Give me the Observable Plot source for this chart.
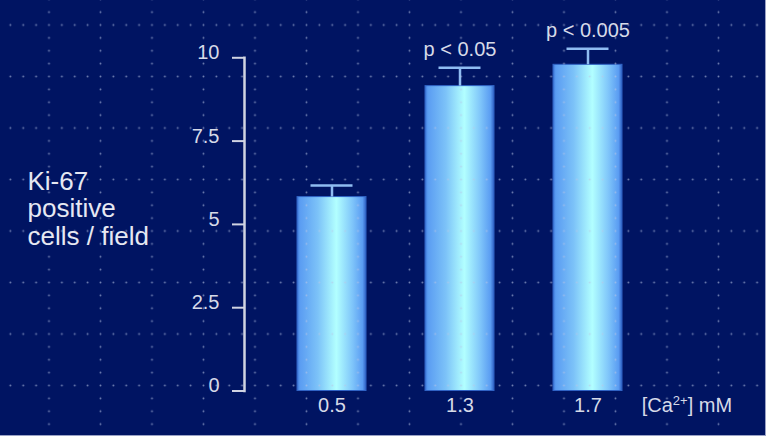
<!DOCTYPE html>
<html>
<head>
<meta charset="utf-8">
<script src="https://cdn.jsdelivr.net/npm/d3@7"></script>
<script src="https://cdn.jsdelivr.net/npm/@observablehq/plot@0.6"></script>
<style>
  html, body { margin: 0; padding: 0; background: #ffffff; }
  #wrap { width: 765px; height: 435px; border-right: 1px solid #9aa2c6; border-bottom: 1px solid #9aa2c6; background: #001462; }
  #wrap svg { display: block; }
</style>
</head>
<body>
<div id="wrap"></div>
<script>
// ---- data ----
const concentrations = ["0.5", "1.3", "1.7"];
const meanKi67 = [5.82, 9.15, 9.79];
const errKi67 = [0.35, 0.55, 0.48];
const pLabels = ["", "p < 0.05", "p < 0.005"];
const yTicks = [0, 2.5, 5, 7.5, 10];
const yLabel = "Ki-67\npositive\ncells / field";
const xLabel = "[Ca2+] mM";

const rows = concentrations.map((c, i) => ({
  conc: c, mean: meanKi67[i], upper: meanKi67[i] + errKi67[i], p: pLabels[i]
}));

const FONT = "'Liberation Sans', Arial, Helvetica, sans-serif";
const TXT = "#d6dae8";
const AXIS = "#d0d4e2";
const ERR = "#8fbcf2";

// gradient + dot-grid definitions (decoration)
const defsMark = () => {
  const g = d3.create("svg:g");
  const defs = g.append("defs");
  const lg = defs.append("linearGradient").attr("id", "barGrad")
    .attr("x1", "0").attr("x2", "1").attr("y1", "0").attr("y2", "0");
  [["0%", "#3a72d4"], ["4%", "#5a9cf2"], ["30%", "#7cc2f8"], ["57%", "#b2ffff"],
   ["80%", "#80c6fa"], ["95%", "#5a9cf2"], ["100%", "#3162c4"]]
    .forEach(([o, c]) => lg.append("stop").attr("offset", o).attr("stop-color", c));
  const pat = defs.append("pattern").attr("id", "dotGrid")
    .attr("patternUnits", "userSpaceOnUse")
    .attr("x", 49 - 6.4375).attr("y", 25 - 6.4375)
    .attr("width", 51.5).attr("height", 51.5);
  for (let i = 0; i < 4; i++) pat.append("circle").attr("cx", 6.4375 + 12.875 * i).attr("cy", 6.4375).attr("r", 0.95).attr("fill", "rgba(185,196,228,0.6)");
  for (let j = 1; j < 4; j++) pat.append("circle").attr("cx", 6.4375).attr("cy", 6.4375 + 12.875 * j).attr("r", 0.95).attr("fill", "rgba(185,196,228,0.6)");
  return g.node();
};

const dotOverlay = (index, scales, values, dims) => {
  const g = d3.create("svg:g");
  g.append("rect").attr("x", 0).attr("y", 0).attr("width", dims.width).attr("height", dims.height)
    .attr("fill", "url(#dotGrid)").attr("pointer-events", "none");
  return g.node();
};

const plot = Plot.plot({
  width: 765,
  height: 435,
  marginTop: 57.3,
  marginBottom: 44.5,
  marginLeft: 244,
  marginRight: 89.8,
  style: { background: "#001462", fontFamily: FONT, color: TXT },
  x: { domain: concentrations, paddingInner: 0.463, paddingOuter: 0.408, label: null },
  y: { domain: [0, 10], label: null },
  marks: [
    defsMark,
    Plot.barY(rows, { x: "conc", y: "mean", fill: "url(#barGrad)", stroke: "#2f62c4", strokeWidth: 1 }),
    Plot.ruleX(rows, { x: "conc", y1: "mean", y2: "upper", stroke: ERR, strokeWidth: 2.5 }),
    Plot.tickY(rows, { x: "conc", y: "upper", stroke: ERR, strokeWidth: 2.5, insetLeft: 13.5, insetRight: 13.5 }),
    dotOverlay,
    Plot.text(rows.filter(d => d.p), { x: "conc", y: "upper", text: "p", dy: -12, lineAnchor: "bottom",
      fontSize: 20, fill: TXT }),
    Plot.frame({ anchor: "left", stroke: AXIS, strokeWidth: 2.5 }),
    // tick marks
    Plot.axisY({ ticks: yTicks, tickSize: 12, tickFormat: () => "", stroke: AXIS, strokeWidth: 2,
      strokeOpacity: 1, label: null }),
    // tick labels, raised slightly above the tick marks as in the reference
    Plot.axisY({ ticks: yTicks, tickSize: 0, tickPadding: 25, tickFormat: d => String(d),
      fontSize: 20, fill: TXT, dy: -5, label: null }),
    Plot.axisX({ tickSize: 0, tickPadding: 7, fontSize: 20, fill: TXT, label: null }),
    Plot.text([yLabel], { frameAnchor: "left", text: d => d, textAnchor: "start", lineAnchor: "middle",
      lineHeight: 1.06, dx: -217, dy: -16, fontSize: 26, fill: "#e6e8f2" }),
    Plot.text([xLabel], { frameAnchor: "bottom-right", text: d => d, textAnchor: "start", lineAnchor: "top",
      dx: -34, dy: 7, fontSize: 20, fill: TXT,
      render(index, scales, values, dims, ctx, next) {
        const g = next(index, scales, values, dims, ctx);
        g.querySelectorAll("text").forEach(t => {
          const s = t.textContent;
          const m = s.match(/^(.*Ca)(2\+)(.*)$/);
          if (!m) return;
          t.textContent = "";
          const ns = "http://www.w3.org/2000/svg";
          const a = document.createElementNS(ns, "tspan"); a.textContent = m[1];
          const b = document.createElementNS(ns, "tspan"); b.textContent = m[2];
          b.setAttribute("font-size", "13"); b.setAttribute("dy", "-7");
          const c = document.createElementNS(ns, "tspan"); c.textContent = m[3];
          c.setAttribute("dy", "7");
          t.append(a, b, c);
        });
        return g;
      } })
  ]
});

document.getElementById("wrap").appendChild(plot);
</script>
</body>
</html>
